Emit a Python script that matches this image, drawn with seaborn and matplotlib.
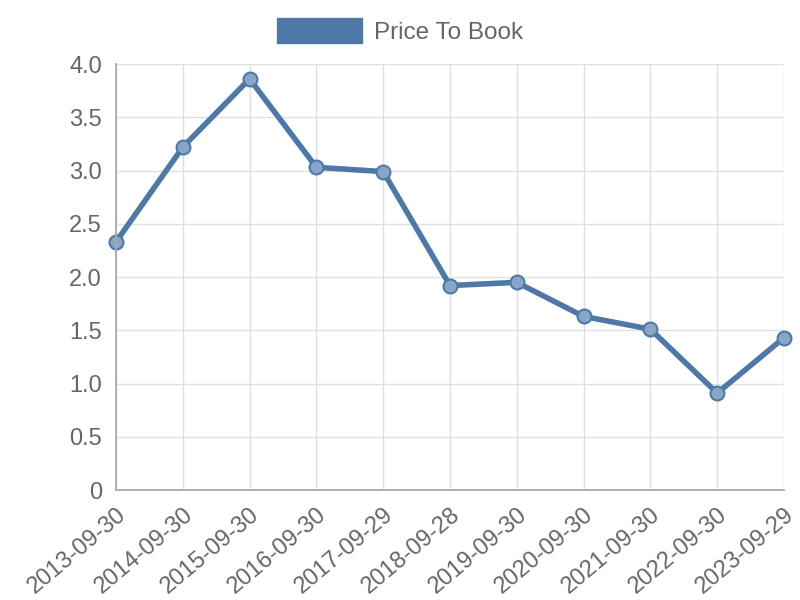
import pandas as pd
import matplotlib.pyplot as plt
import seaborn as sns
from matplotlib.patches import Patch

# Data
dates = ["2013-09-30", "2014-09-30", "2015-09-30", "2016-09-30", "2017-09-29",
         "2018-09-28", "2019-09-30", "2020-09-30", "2021-09-30", "2022-09-30",
         "2023-09-29"]
price_to_book = [2.33, 3.22, 3.86, 3.03, 2.99, 1.92, 1.95, 1.63, 1.51, 0.91, 1.43]

df = pd.DataFrame({"Date": dates, "Price To Book": price_to_book})

sns.set_style("white")
plt.rcParams["font.family"] = ["Liberation Sans", "DejaVu Sans"]

color = "#4e79a7"
text_color = "#666666"

fig = plt.figure(figsize=(8, 6), dpi=100)
ax = fig.add_axes([0.145, 0.1833, 0.835, 0.71])

sns.lineplot(data=df, x="Date", y="Price To Book", ax=ax, color=color,
             linewidth=4, marker="o", markersize=10,
             markerfacecolor="#8aa6c6", markeredgecolor=color,
             markeredgewidth=1.5, sort=False, clip_on=False)

ax.set_xlim(0, len(dates) - 1)
ax.set_ylim(0, 4.0)
ax.set_yticks([0, 0.5, 1.0, 1.5, 2.0, 2.5, 3.0, 3.5, 4.0])
ax.set_yticklabels(["0", "0.5", "1.0", "1.5", "2.0", "2.5", "3.0", "3.5", "4.0"])
ax.set_xticks(range(len(dates)))
ax.set_xticklabels(dates, rotation=40, ha="right", rotation_mode="anchor")

ax.grid(True, color="#e0e0e0", linewidth=1)
ax.set_axisbelow(True)
for side in ["top", "right"]:
    ax.spines[side].set_visible(False)
for side in ["left", "bottom"]:
    ax.spines[side].set_color("#aaaaaa")
    ax.spines[side].set_linewidth(1.3)

ax.tick_params(axis="both", length=8, color="#e0e0e0", labelsize=17,
               labelcolor=text_color, pad=2)
ax.set_xlabel("")
ax.set_ylabel("")

handle = Patch(facecolor=color, edgecolor=color)
fig.legend(handles=[handle], labels=["Price To Book"], loc="upper center",
           bbox_to_anchor=(0.5, 1.006), frameon=False, fontsize=17.5,
           labelcolor=text_color, handlelength=3.5, handleheight=1.2,
           handletextpad=0.5)

fig.savefig("out.png", dpi=100)
